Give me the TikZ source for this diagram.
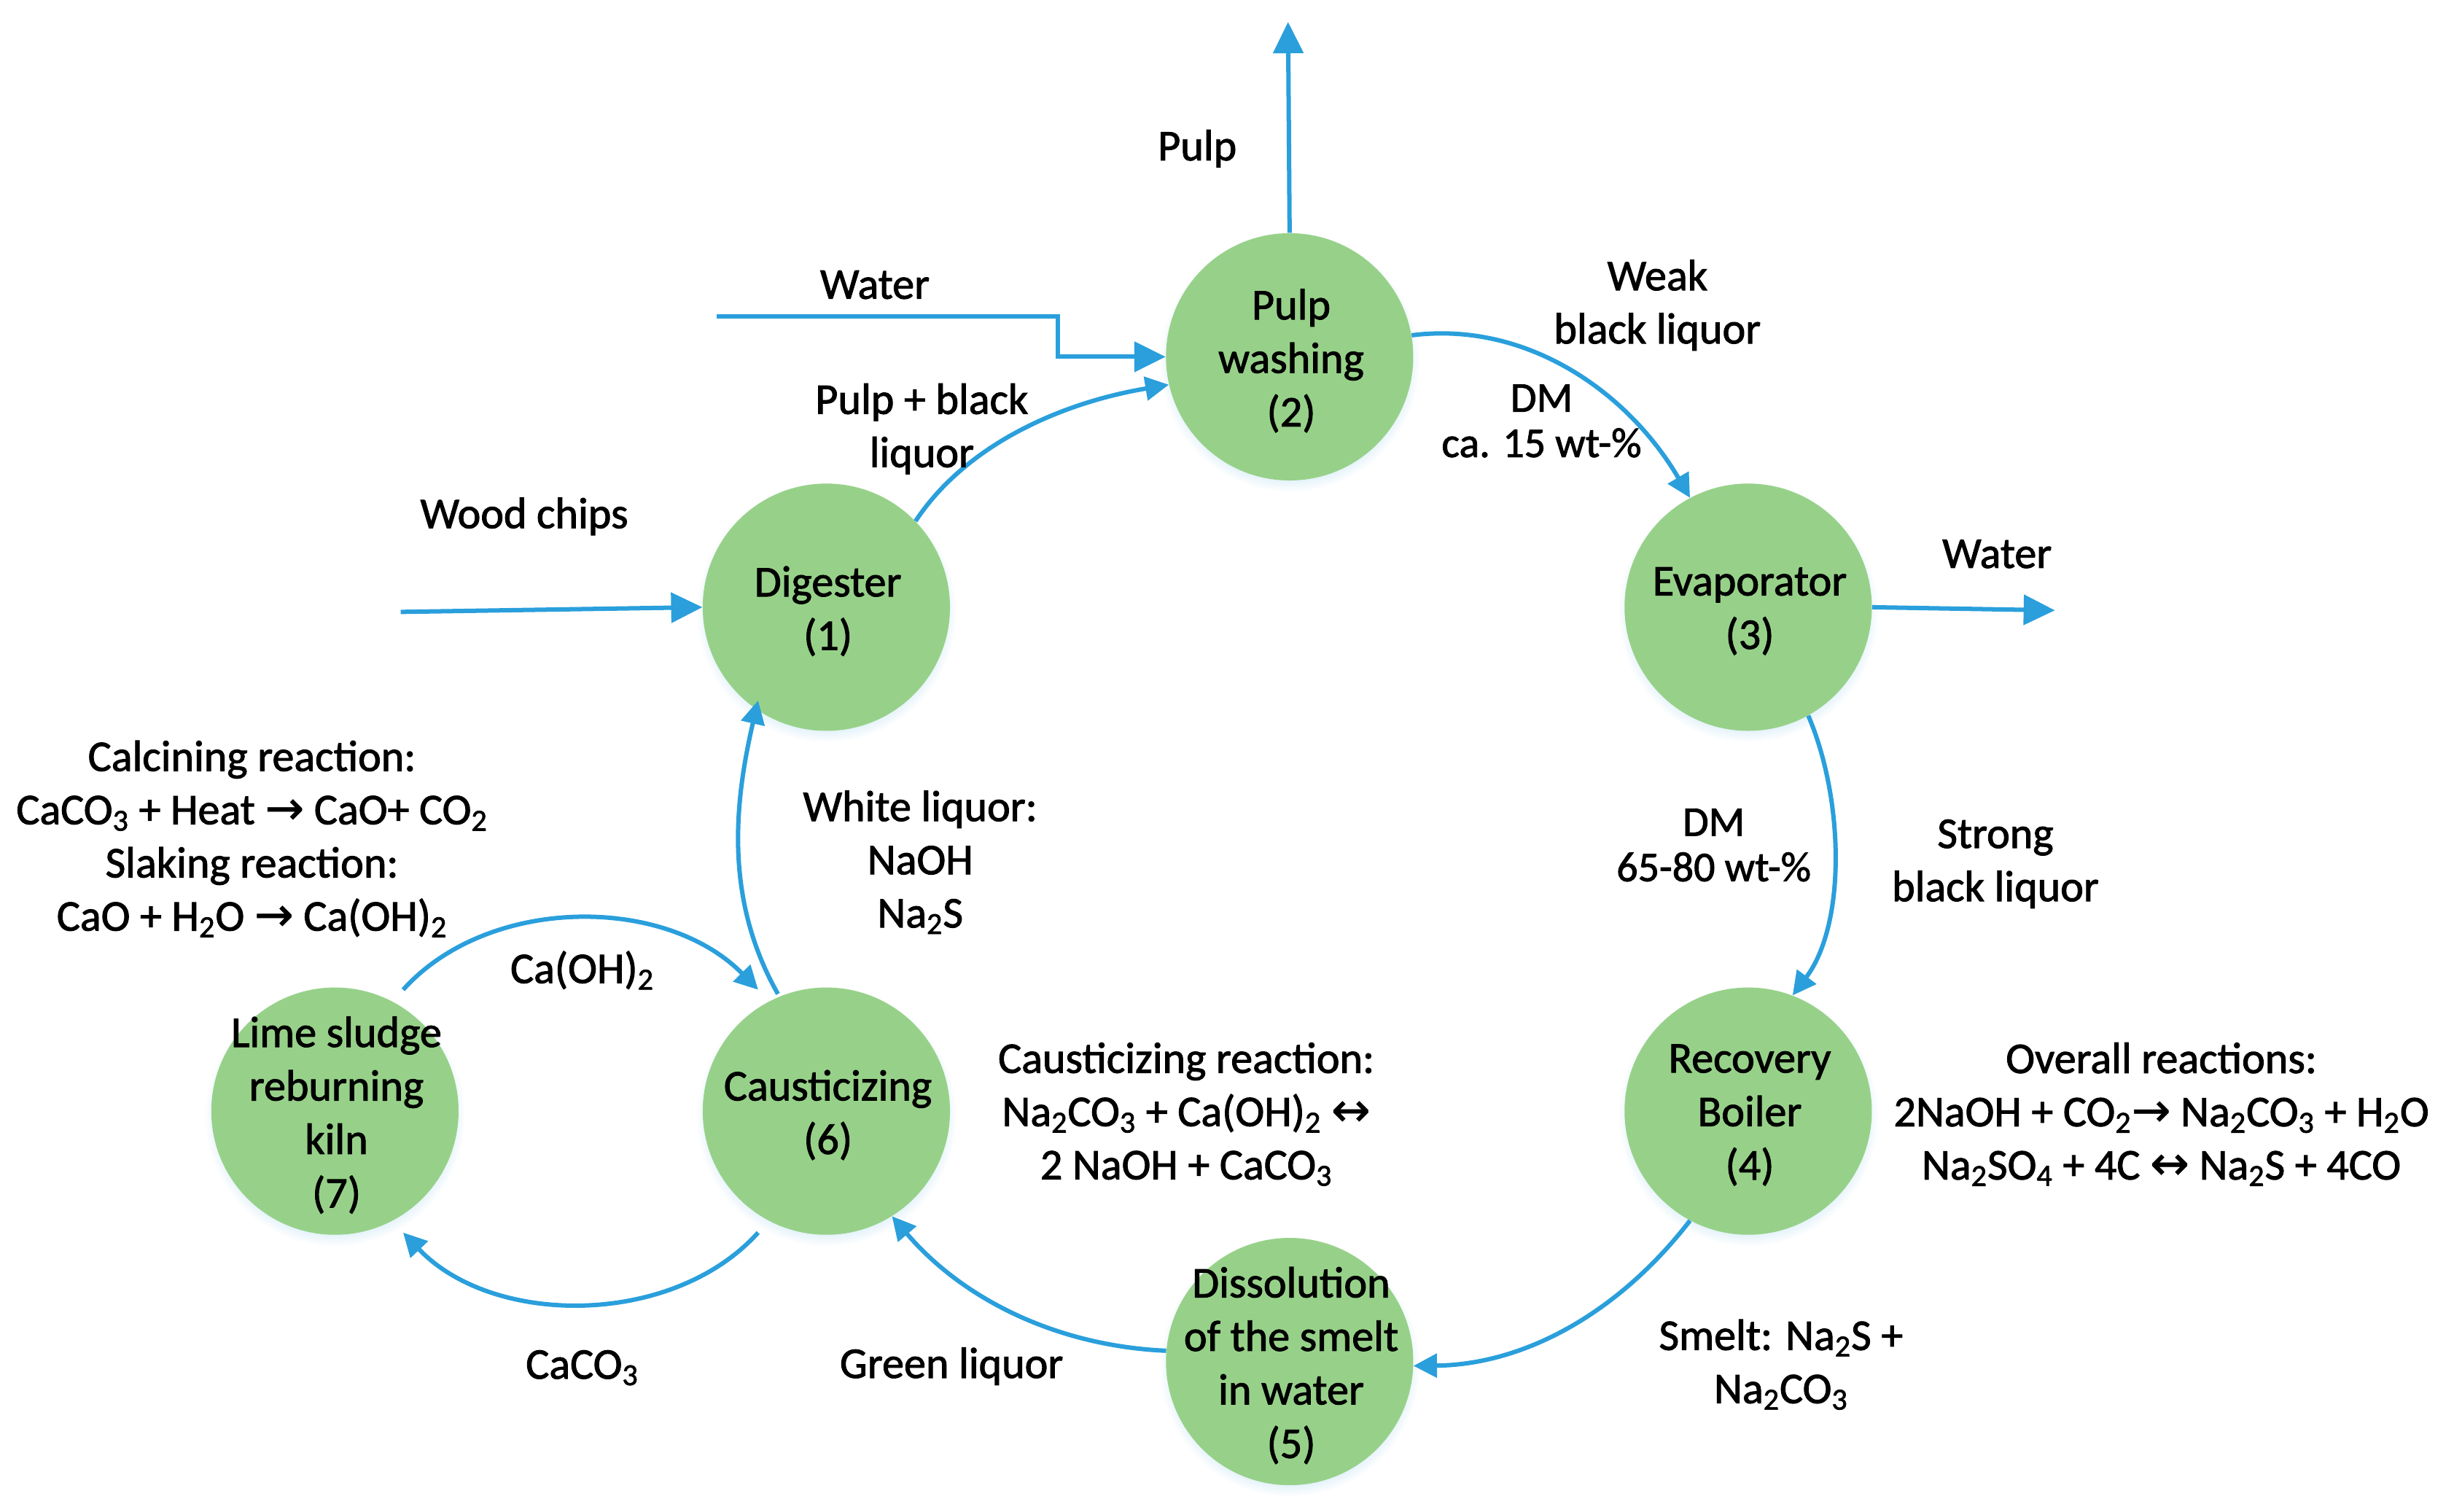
\documentclass[tikz,border=0pt]{standalone}
\usepackage{fontspec}
\setmainfont[FakeBold=1.6]{Carlito}
\newfontfamily\symf[FakeBold=0.8]{DejaVu Sans}
\usetikzlibrary{arrows.meta,shadows}
\definecolor{flow}{HTML}{2A9FDC}
\definecolor{unit}{HTML}{97D189}
\newcommand{\sbs}[1]{\textsubscript{#1}}
\newcommand{\rar}{{\symf\fontsize{30}{34}\selectfont →}}
\newcommand{\lrar}{{\symf\fontsize{30}{34}\selectfont ↔}}
\tikzset{
  x=1pt,y=-1pt,
  unitnode/.style={circle,fill=unit,minimum size=158pt,inner sep=0pt,
    preaction={circular drop shadow={shadow scale=1.05,shadow xshift=0pt,shadow yshift=-3pt,fill=flow!40,opacity=.5}}},
  unittext/.style={align=center,inner sep=0pt,xshift=1pt,yshift=-2.5pt,
    font=\fontsize{28}{34.2}\selectfont,text=black},
  lab/.style={align=center,inner sep=0pt,font=\fontsize{28}{34}\selectfont,text=black},
  smalllab/.style={align=center,inner sep=0pt,font=\fontsize{27}{29}\selectfont,text=black},
  flowline/.style={draw=flow,line width=2.8pt,-{Triangle[length=15pt,width=15pt]}},
  straightflow/.style={draw=flow,line width=2.8pt,-{Triangle[length=20pt,width=19pt]}},
}
\begin{document}
\begin{tikzpicture}
\useasboundingbox[fill=white] (0,0) rectangle (1568,965.7);
\node[unitnode,label={[unittext]center:{Pulp\\washing\\(2)}}] (pw) at (824,228) {};
\node[unitnode,label={[unittext]center:{Digester\\(1)}}] (dig) at (528,388) {};
\node[unitnode,label={[unittext]center:{Evaporator\\(3)}}] (eva) at (1117,388) {};
\node[unitnode,label={[unittext]center:{Recovery\\Boiler\\(4)}}] (rec) at (1117,710) {};
\node[unitnode,label={[unittext]center:{Dissolution\\of the smelt\\in water\\(5)}}] (dis) at (824,870) {};
\node[unitnode,label={[unittext]center:{Causticizing\\(6)}}] (cau) at (528,710) {};
\node[unitnode,label={[unittext]center:{Lime sludge\\reburning\\kiln\\(7)}}] (lim) at (214,710) {};

\coordinate (pulpEnd) at (823,14);
\coordinate (waterIn) at (458,202);
\coordinate (chipsIn) at (256,391);
\coordinate (waterOut) at (1313,390);

\draw[straightflow] (pw.north) -- (pulpEnd);
\draw[straightflow] (waterIn) -- (676,202) -- (676,228) -- (pw.west);
\draw[straightflow] (chipsIn) -- (dig.west);
\draw[straightflow] (eva.east) -- (waterOut);
\draw[flowline] (dig.44) .. controls (618,283) and (680,257) .. (pw.-167);
\draw[flowline] (pw.10) .. controls (975,205) and (1040,250) .. (eva.118);
\draw[flowline] (eva.-61) .. controls (1178,510) and (1180,590) .. (rec.69);
\draw[flowline] (rec.-118) .. controls (1035,838) and (975,872) .. (dis.-2);
\draw[flowline] (dis.175) .. controls (675,860) and (615,830) .. (cau.-58);
\draw[flowline] ([shift={(-4,9)}]cau.-120) .. controls (430,848) and (315,848) .. ([shift={(4,9)}]lim.-60);
\draw[flowline] ([shift={(4,-9)}]lim.60) .. controls (312,572) and (425,572) .. ([shift={(-4,-9)}]cau.120);
\draw[flowline] ([shift={(0,-2)}]cau.113) .. controls (463,575) and (469,514) .. ([shift={(-4,-9)}]dig.-120);

\node[lab] (l1) at (765,95) {Pulp};
\node[lab] (l2) at (559,182) {Water};
\node[lab] (l3) at (589,274) {Pulp + black\\liquor};
\node[lab] (l4) at (1059,195) {Weak\\black liquor};
\node[smalllab] (l5) at (985,269) {DM\\ca. 15 wt-\%};
\node[lab] (l6) at (335,330) {Wood chips};
\node[lab] (l7) at (1276,354) {Water};
\node[smalllab] (l8) at (1095,540) {DM\\65-80 wt-\%};
\node[lab] (l9) at (1275,552) {Strong\\black liquor};
\node[lab] (l10) at (588,551) {White liquor:\\NaOH\\Na\sbs{2}S};
\node[lab] (l11) at (161,536) {Calcining reaction:\\CaCO\sbs{3} + Heat \rar{} CaO+ CO\sbs{2}\\Slaking reaction:\\CaO + H\sbs{2}O \rar{} Ca(OH)\sbs{2}};
\node[lab] (l12) at (372,620) {Ca(OH)\sbs{2}};
\node[lab] (l13) at (758,712) {Causticizing reaction:\\Na\sbs{2}CO\sbs{3} + Ca(OH)\sbs{2} \lrar\\2 NaOH + CaCO\sbs{3}};
\node[lab] (l14) at (1381,712) {Overall reactions:\\2NaOH + CO\sbs{2}\rar{} Na\sbs{2}CO\sbs{3} + H\sbs{2}O\\Na\sbs{2}SO\sbs{4} + 4C \lrar{} Na\sbs{2}S + 4CO};
\node[lab] (l15) at (372,874) {CaCO\sbs{3}};
\node[lab] (l16) at (608,873) {Green liquor};
\node[lab] (l17) at (1138,872) {Smelt: Na\sbs{2}S +\\Na\sbs{2}CO\sbs{3}};
\end{tikzpicture}
\end{document}
